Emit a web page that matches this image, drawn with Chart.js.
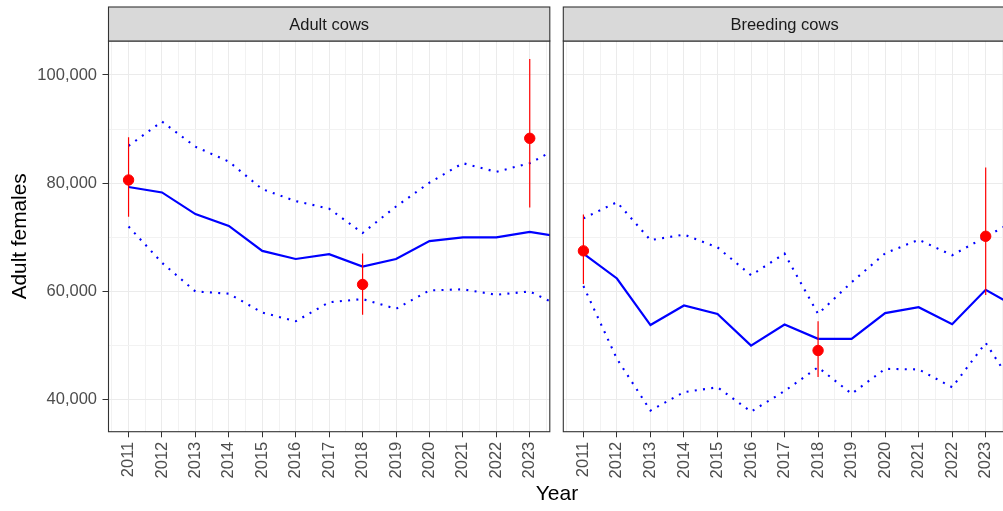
<!DOCTYPE html>
<html>
<head>
<meta charset="utf-8">
<script src="https://cdn.jsdelivr.net/npm/chart.js@4.4.1/dist/chart.umd.min.js"></script>
<style>
  html, body { margin: 0; padding: 0; background: #fff; overflow: hidden; width: 1003px; height: 511px; }
  canvas { position: absolute; top: 0; }
  #adult { left: 0; }
  #breeding { left: 556px; }
  #xtitle {
    position: absolute; left: 457px; width: 200px; top: 481px; line-height: 26px;
    text-align: center; font: 21px 'Liberation Sans', Arial, sans-serif; color: #000;
  }
</style>
</head>
<body>
<canvas id="adult" width="556" height="511"></canvas>
<canvas id="breeding" width="456" height="511"></canvas>
<div id="xtitle">Year</div>
<script>
// model years (the lines run on past the 2023 axis limit and get clipped)
const years = [2011, 2012, 2013, 2014, 2015, 2016, 2017, 2018, 2019, 2020, 2021, 2022, 2023, 2024];

const adultMid   = [79300, 78300, 74300, 72100, 67500, 66000, 66900, 64600, 66000, 69300, 70000, 70000, 71000, 70000];
const adultUpper = [86900, 91400, 86750, 84000, 78900, 76700, 75300, 70800, 75700, 80100, 83700, 82100, 83700, 87000];
const adultLower = [72000, 65300, 60000, 59600, 56100, 54500, 58000, 58600, 56800, 60200, 60400, 59400, 60000, 57000];

const breedMid   = [67000, 62400, 53800, 57400, 55850, 50000, 53900, 51250, 51250, 56000, 57100, 53950, 60300, 56800];
const breedUpper = [73500, 76500, 69500, 70500, 68150, 63000, 67000, 55850, 61700, 67050, 69560, 66700, 70100, 73500];
const breedLower = [61000, 47550, 38000, 41400, 42300, 37800, 41600, 46000, 41100, 45700, 45600, 42300, 50500, 41000];

// survey estimates with their intervals
const surveyYears = [2011, 2018, 2023];
const adultObs = [80600, 61300, 88300];
const adultLo  = [73800, 55700, 75500];
const adultHi  = [88500, 67000, 102950];
const breedObs = [67500, 49100, 70200];
const breedLo  = [61400, 44200, 59350];
const breedHi  = [74200, 54500, 82900];

// axis ticks (major ones get labels, the in-between ones are minor grid lines)
const xTickYears = [2011, 2012, 2013, 2014, 2015, 2016, 2017, 2018, 2019, 2020, 2021, 2022, 2023];
const yTickValues = [40000, 50000, 60000, 70000, 80000, 90000, 100000];

const FONT = "'Liberation Sans', Arial, sans-serif";
const isWhole = v => Math.abs(v - Math.round(v)) < 1e-6;
const isMajorY = v => Math.round(v) % 20000 === 0;
const pts = (xs, ys) => xs.map((x, i) => ({ x, y: ys[i] }));
const xGrid = [xTickYears[0] - 0.5].concat(...xTickYears.map(y => [y, y + 0.5]));

const panelFrame = {
    id: 'panelFrame',
    afterDraw(chart, args, opts) {
        const { ctx, chartArea: a } = chart;
        ctx.save();
        ctx.strokeStyle = '#333333';
        ctx.lineWidth = 1.1;
        ctx.strokeRect(a.left, a.top, a.right - a.left, a.bottom - a.top);
        ctx.fillStyle = '#D9D9D9';
        ctx.fillRect(a.left, 7, a.right - a.left, a.top - 7);
        ctx.strokeRect(a.left, 7, a.right - a.left, a.top - 7);
        ctx.fillStyle = '#1A1A1A';
        ctx.font = '16.5px ' + FONT;
        ctx.textAlign = 'center';
        ctx.textBaseline = 'middle';
        ctx.fillText(opts.title, (a.left + a.right) / 2, (7 + a.top) / 2 + 1);
        ctx.restore();
    }
};

const errorBars = {
    id: 'errorBars',
    afterDatasetsDraw(chart, args, opts) {
        const { ctx, chartArea: a } = chart;
        const xs = chart.scales.x, ys = chart.scales.y;
        ctx.save();
        ctx.beginPath();
        ctx.rect(a.left, a.top, a.right - a.left, a.bottom - a.top);
        ctx.clip();
        ctx.strokeStyle = '#FF0000';
        ctx.lineWidth = 1.2;
        surveyYears.forEach((yr, i) => {
            const px = xs.getPixelForValue(yr);
            ctx.beginPath();
            ctx.moveTo(px, ys.getPixelForValue(opts.lo[i]));
            ctx.lineTo(px, ys.getPixelForValue(opts.hi[i]));
            ctx.stroke();
        });
        ctx.restore();
    }
};

function makePanel(id, title, mid, upper, lower, obs, lo, hi, showY) {
    const blue = '#0000FF';
    const lineBase = { borderColor: blue, pointRadius: 0, tension: 0, clip: 0, order: 1, fill: false };
    return new Chart(document.getElementById(id), {
        type: 'line',
        data: {
            datasets: [
                { data: pts(surveyYears, obs), showLine: false, pointRadius: 5.2, borderWidth: 1,
                  pointBackgroundColor: '#FF0000', pointBorderColor: '#FF0000', order: 0 },
                { ...lineBase, data: pts(years, mid), borderWidth: 2.2 },
                { ...lineBase, data: pts(years, upper), borderWidth: 2.1, borderDash: [2, 6.3] },
                { ...lineBase, data: pts(years, lower), borderWidth: 2.1, borderDash: [2, 6.3] }
            ]
        },
        options: {
            responsive: false,
            animation: false,
            events: [],
            layout: { padding: showY
                ? { left: 0, right: 3.5, top: 41, bottom: 0 }
                : { left: 7.3, right: 4.7, top: 41, bottom: 0 } },
            plugins: {
                legend: { display: false },
                tooltip: { enabled: false },
                panelFrame: { title },
                errorBars: { lo, hi }
            },
            scales: {
                x: {
                    type: 'linear',
                    min: 2010.4,
                    max: 2023.6,
                    border: { display: false },
                    grid: {
                        color: c => isWhole(c.tick.value) ? '#EBEBEB' : '#F2F2F2',
                        lineWidth: 1,
                        tickLength: 5.6,
                        tickWidth: 1,
                        tickColor: c => isWhole(c.tick.value) ? '#333333' : 'rgba(0,0,0,0)'
                    },
                    ticks: {
                        autoSkip: false,
                        minRotation: 90,
                        maxRotation: 90,
                        padding: 4.4,
                        color: '#4D4D4D',
                        font: { family: FONT, size: 16.5 },
                        callback: v => isWhole(v) ? String(Math.round(v)) : ''
                    },
                    afterBuildTicks: s => { s.ticks = xGrid.map(v => ({ value: v })); },
                    afterFit: s => { s.height = 79.3; s.paddingLeft = 0; s.paddingRight = 0; }
                },
                y: {
                    min: 34092,
                    max: 106277,
                    border: { display: false },
                    grid: {
                        color: c => isMajorY(c.tick.value) ? '#EBEBEB' : '#F2F2F2',
                        lineWidth: 1,
                        drawTicks: showY,
                        tickLength: 6,
                        tickWidth: 1,
                        tickColor: c => isMajorY(c.tick.value) ? '#333333' : 'rgba(0,0,0,0)'
                    },
                    ticks: {
                        display: showY,
                        autoSkip: false,
                        padding: 5.5,
                        color: '#4D4D4D',
                        font: { family: FONT, size: 16.5 },
                        callback: v => isMajorY(v) ? v.toLocaleString('en-US') : ''
                    },
                    title: {
                        display: showY,
                        text: 'Adult females',
                        color: '#000000',
                        font: { family: FONT, size: 20.8 },
                        padding: { top: 7.4, bottom: 0 }
                    },
                    afterBuildTicks: s => { s.ticks = yTickValues.map(v => ({ value: v })); },
                    afterFit: s => { s.width = showY ? 108.5 : 0; s.paddingTop = 0; s.paddingBottom = 0; }
                }
            }
        },
        plugins: [panelFrame, errorBars]
    });
}

makePanel('adult', 'Adult cows', adultMid, adultUpper, adultLower, adultObs, adultLo, adultHi, true);
makePanel('breeding', 'Breeding cows', breedMid, breedUpper, breedLower, breedObs, breedLo, breedHi, false);
</script>
</body>
</html>
